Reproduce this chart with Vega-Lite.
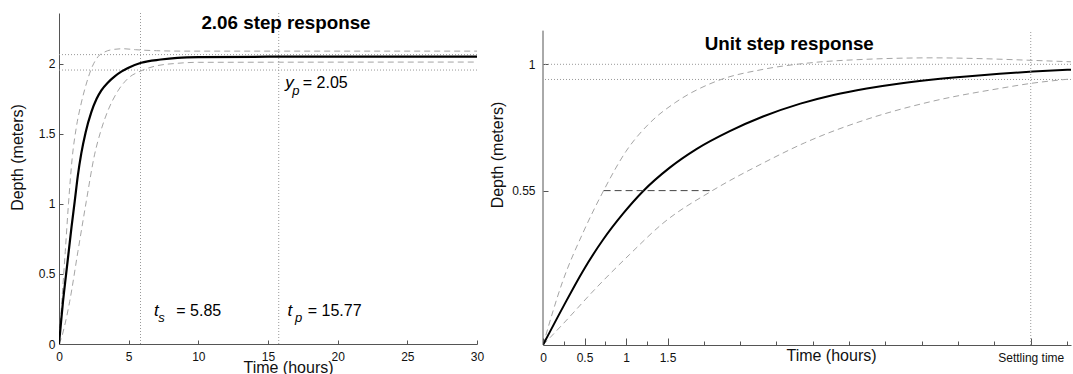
{
  "$schema": "https://vega.github.io/schema/vega-lite/v6.json",
  "padding": {"left": 9, "top": 12, "right": 0, "bottom": 0},
  "bounds": "flush",
  "spacing": 66,
  "config": {
    "font": "Liberation Sans",
    "view": {"stroke": null},
    "axis": {
      "grid": false,
      "domainColor": "#555555",
      "tickColor": "#555555",
      "labelColor": "#111111",
      "labelFont": "Liberation Sans",
      "labelFontSize": 12,
      "titleFont": "Liberation Sans",
      "titleFontSize": 16,
      "titleFontWeight": "normal",
      "titleColor": "#111111"
    }
  },
  "datasets": {
    "leftCurves": [
      {"s": "upper", "t": 0, "v": 0}, {"s": "upper", "t": 0.2, "v": 0.3}, {"s": "upper", "t": 0.45, "v": 0.66}, {"s": "upper", "t": 0.68, "v": 1.0}, {"s": "upper", "t": 0.95, "v": 1.33}, {"s": "upper", "t": 1.25, "v": 1.55}, {"s": "upper", "t": 1.6, "v": 1.72}, {"s": "upper", "t": 2.0, "v": 1.87}, {"s": "upper", "t": 2.39, "v": 1.98}, {"s": "upper", "t": 2.8, "v": 2.05}, {"s": "upper", "t": 3.3, "v": 2.085}, {"s": "upper", "t": 4.0, "v": 2.103}, {"s": "upper", "t": 4.6, "v": 2.107}, {"s": "upper", "t": 5.5, "v": 2.1}, {"s": "upper", "t": 7, "v": 2.093}, {"s": "upper", "t": 9, "v": 2.09}, {"s": "upper", "t": 30, "v": 2.09},
      {"s": "lower", "t": 0, "v": 0}, {"s": "lower", "t": 0.17, "v": 0.043}, {"s": "lower", "t": 0.45, "v": 0.15}, {"s": "lower", "t": 0.77, "v": 0.305}, {"s": "lower", "t": 1.36, "v": 0.662}, {"s": "lower", "t": 1.96, "v": 1.019}, {"s": "lower", "t": 2.55, "v": 1.35}, {"s": "lower", "t": 3.0, "v": 1.52}, {"s": "lower", "t": 3.51, "v": 1.665}, {"s": "lower", "t": 4.1, "v": 1.785}, {"s": "lower", "t": 4.95, "v": 1.895}, {"s": "lower", "t": 5.86, "v": 1.948}, {"s": "lower", "t": 6.86, "v": 1.982}, {"s": "lower", "t": 8.5, "v": 2.003}, {"s": "lower", "t": 10, "v": 2.01}, {"s": "lower", "t": 30, "v": 2.012},
      {"s": "response", "t": 0, "v": 0}, {"s": "response", "t": 0.15, "v": 0.16}, {"s": "response", "t": 0.29, "v": 0.305}, {"s": "response", "t": 0.5, "v": 0.49}, {"s": "response", "t": 0.7, "v": 0.662}, {"s": "response", "t": 0.9, "v": 0.835}, {"s": "response", "t": 1.13, "v": 1.019}, {"s": "response", "t": 1.35, "v": 1.2}, {"s": "response", "t": 1.6, "v": 1.36}, {"s": "response", "t": 1.91, "v": 1.51}, {"s": "response", "t": 2.32, "v": 1.655}, {"s": "response", "t": 2.7, "v": 1.75}, {"s": "response", "t": 3.04, "v": 1.81}, {"s": "response", "t": 3.5, "v": 1.865}, {"s": "response", "t": 4.0, "v": 1.91}, {"s": "response", "t": 4.5, "v": 1.945}, {"s": "response", "t": 4.95, "v": 1.97}, {"s": "response", "t": 5.9, "v": 2.007}, {"s": "response", "t": 7.3, "v": 2.03}, {"s": "response", "t": 8.5, "v": 2.042}, {"s": "response", "t": 10, "v": 2.047}, {"s": "response", "t": 15, "v": 2.05}, {"s": "response", "t": 30, "v": 2.05}
    ],
    "leftH": [{"v": 2.065}, {"v": 1.955}],
    "leftV": [{"t": 5.85}, {"t": 15.77}],
    "leftText": [
      {"role": "title", "t": 16.29, "v": 2.246, "text": "2.06 step response"},
      {"role": "main", "t": 16.54, "v": 1.824, "text": "y"},
      {"role": "sub", "t": 17.0, "v": 1.78, "text": "p"},
      {"role": "eq", "t": 17.5, "v": 1.824, "text": "= 2.05"},
      {"role": "main", "t": 6.98, "v": 0.203, "text": "t"},
      {"role": "sub", "t": 7.35, "v": 0.158, "text": "s"},
      {"role": "eq", "t": 8.42, "v": 0.203, "text": "= 5.85"},
      {"role": "main", "t": 16.57, "v": 0.203, "text": "t"},
      {"role": "sub", "t": 17.2, "v": 0.158, "text": "p"},
      {"role": "eq", "t": 17.85, "v": 0.203, "text": "= 15.77"}
    ],
    "rightCurves": [
      {"s": "upper", "t": 0, "v": 0}, {"s": "upper", "t": 0.241, "v": 0.23}, {"s": "upper", "t": 0.482, "v": 0.4}, {"s": "upper", "t": 0.73, "v": 0.55}, {"s": "upper", "t": 1.0, "v": 0.69}, {"s": "upper", "t": 1.3, "v": 0.795}, {"s": "upper", "t": 1.6, "v": 0.865}, {"s": "upper", "t": 2.09, "v": 0.94}, {"s": "upper", "t": 2.65, "v": 0.982}, {"s": "upper", "t": 3.21, "v": 1.005}, {"s": "upper", "t": 3.9, "v": 1.018}, {"s": "upper", "t": 4.7, "v": 1.023}, {"s": "upper", "t": 5.3, "v": 1.02}, {"s": "upper", "t": 5.9, "v": 1.014}, {"s": "upper", "t": 6.36, "v": 1.009},
      {"s": "lower", "t": 0, "v": 0}, {"s": "lower", "t": 0.241, "v": 0.075}, {"s": "lower", "t": 0.643, "v": 0.204}, {"s": "lower", "t": 1.045, "v": 0.323}, {"s": "lower", "t": 1.446, "v": 0.434}, {"s": "lower", "t": 2.04, "v": 0.55}, {"s": "lower", "t": 2.65, "v": 0.648}, {"s": "lower", "t": 3.15, "v": 0.72}, {"s": "lower", "t": 3.9, "v": 0.804}, {"s": "lower", "t": 4.7, "v": 0.869}, {"s": "lower", "t": 5.5, "v": 0.914}, {"s": "lower", "t": 5.876, "v": 0.932}, {"s": "lower", "t": 6.36, "v": 0.948},
      {"s": "response", "t": 0, "v": 0}, {"s": "response", "t": 0.241, "v": 0.135}, {"s": "response", "t": 0.482, "v": 0.264}, {"s": "response", "t": 0.723, "v": 0.375}, {"s": "response", "t": 0.964, "v": 0.468}, {"s": "response", "t": 1.205, "v": 0.548}, {"s": "response", "t": 1.527, "v": 0.632}, {"s": "response", "t": 1.848, "v": 0.698}, {"s": "response", "t": 2.25, "v": 0.762}, {"s": "response", "t": 2.65, "v": 0.814}, {"s": "response", "t": 3.1, "v": 0.86}, {"s": "response", "t": 3.5, "v": 0.891}, {"s": "response", "t": 3.9, "v": 0.914}, {"s": "response", "t": 4.3, "v": 0.932}, {"s": "response", "t": 4.7, "v": 0.946}, {"s": "response", "t": 5.1, "v": 0.957}, {"s": "response", "t": 5.5, "v": 0.966}, {"s": "response", "t": 5.9, "v": 0.974}, {"s": "response", "t": 6.36, "v": 0.981}
    ],
    "rightH": [{"v": 1.0}, {"v": 0.946}],
    "rightV": [{"kind": "axis", "t": 0, "v": 0, "v2": 1.12}, {"kind": "settle", "t": 5.875, "v": 0, "v2": 1.12}],
    "rightSeg": [{"t": 0.73, "t2": 2.04, "v": 0.55}],
    "rightText": [{"t": 2.966, "v": 1.051, "text": "Unit step response"}]
  },
  "hconcat": [
    {
      "width": 418,
      "height": 331,
      "layer": [
        {
          "data": {"name": "leftH"},
          "mark": {"type": "rule", "color": "#999999", "strokeDash": [1, 2], "strokeWidth": 1},
          "encoding": {"y": {"field": "v", "type": "quantitative", "scale": {"domain": [0, 2.362], "nice": false, "zero": false},
              "axis": {"values": [0, 0.5, 1, 1.5, 2], "tickSize": -4, "labelPadding": 8, "format": "~g", "labelFlush": false, "labelOverlap": false, "title": "Depth (meters)", "titleX": -42, "titleY": 144, "titleBaseline": "middle"}}}
        },
        {
          "data": {"name": "leftV"},
          "mark": {"type": "rule", "color": "#999999", "strokeDash": [1, 2], "strokeWidth": 1},
          "encoding": {"x": {"field": "t", "type": "quantitative", "scale": {"domain": [0, 30], "nice": false, "zero": false},
              "axis": {"values": [0, 5, 10, 15, 20, 25, 30], "tickSize": -4, "labelPadding": 11, "format": "~g", "labelFlush": false, "labelOverlap": false, "title": "Time (hours)", "titleX": 229, "titleY": 28, "titleBaseline": "alphabetic"}}}
        },
        {
          "data": {"name": "leftCurves"},
          "transform": [{"filter": "datum.s != 'response'"}],
          "mark": {"type": "line", "interpolate": "monotone", "clip": true, "color": "#a5a5a5", "strokeWidth": 1, "strokeDash": [6, 4]},
          "encoding": {
            "x": {"field": "t", "type": "quantitative"},
            "y": {"field": "v", "type": "quantitative"},
            "detail": {"field": "s", "type": "nominal"},
            "order": {"field": "t", "type": "quantitative"}
          }
        },
        {
          "data": {"name": "leftCurves"},
          "transform": [{"filter": "datum.s == 'response'"}],
          "mark": {"type": "line", "interpolate": "monotone", "clip": true, "color": "#000000", "strokeWidth": 2.2},
          "encoding": {
            "x": {"field": "t", "type": "quantitative"},
            "y": {"field": "v", "type": "quantitative"},
            "order": {"field": "t", "type": "quantitative"}
          }
        },
        {
          "data": {"name": "leftText"},
          "transform": [{"filter": "datum.role == 'title'"}],
          "mark": {"type": "text", "font": "Liberation Sans", "fontWeight": "bold", "fontSize": 18.8, "align": "center", "baseline": "alphabetic", "color": "#000000"},
          "encoding": {"x": {"field": "t", "type": "quantitative"}, "y": {"field": "v", "type": "quantitative"}, "text": {"field": "text"}}
        },
        {
          "data": {"name": "leftText"},
          "transform": [{"filter": "datum.role == 'main'"}],
          "mark": {"type": "text", "font": "Liberation Sans", "fontStyle": "italic", "fontSize": 17, "align": "center", "baseline": "alphabetic", "color": "#000000"},
          "encoding": {"x": {"field": "t", "type": "quantitative"}, "y": {"field": "v", "type": "quantitative"}, "text": {"field": "text"}}
        },
        {
          "data": {"name": "leftText"},
          "transform": [{"filter": "datum.role == 'sub'"}],
          "mark": {"type": "text", "font": "Liberation Sans", "fontStyle": "italic", "fontSize": 13, "align": "center", "baseline": "alphabetic", "color": "#000000"},
          "encoding": {"x": {"field": "t", "type": "quantitative"}, "y": {"field": "v", "type": "quantitative"}, "text": {"field": "text"}}
        },
        {
          "data": {"name": "leftText"},
          "transform": [{"filter": "datum.role == 'eq'"}],
          "mark": {"type": "text", "font": "Liberation Sans", "fontSize": 16, "align": "left", "baseline": "alphabetic", "color": "#000000"},
          "encoding": {"x": {"field": "t", "type": "quantitative"}, "y": {"field": "v", "type": "quantitative"}, "text": {"field": "text"}}
        }
      ]
    },
    {
      "width": 528,
      "height": 332,
      "resolve": {"axis": {"x": "independent"}},
      "layer": [
        {
          "data": {"name": "rightH"},
          "mark": {"type": "rule", "color": "#999999", "strokeDash": [1, 2], "strokeWidth": 1},
          "encoding": {"y": {"field": "v", "type": "quantitative", "scale": {"domain": [0, 1.1828], "nice": false, "zero": false},
              "axis": {"values": [0.55, 1], "tickSize": -5, "labelPadding": 13, "format": "~g", "domain": false, "labelFlush": false, "title": "Depth (meters)", "titleX": -46, "titleY": 141.5, "titleBaseline": "middle"}}}
        },
        {
          "data": {"name": "rightCurves"},
          "transform": [{"filter": "datum.s != 'response'"}],
          "mark": {"type": "line", "interpolate": "monotone", "clip": true, "color": "#a5a5a5", "strokeWidth": 1, "strokeDash": [6, 4]},
          "encoding": {
            "x": {"field": "t", "type": "quantitative", "scale": {"domain": [0, 6.36], "nice": false, "zero": false},
              "axis": {"orient": "bottom", "values": [0, 0.5, 1, 1.5, 5.875], "tickSize": -7, "labelPadding": 14, "labelExpr": "datum.value == 5.875 ? 'Settling time' : format(datum.value, '~g')", "labelFlush": false, "labelOverlap": false, "title": "Time (hours)", "titleX": 288, "titleY": 15, "titleBaseline": "alphabetic"}},
            "y": {"field": "v", "type": "quantitative"},
            "detail": {"field": "s", "type": "nominal"},
            "order": {"field": "t", "type": "quantitative"}
          }
        },
        {
          "data": {"name": "rightCurves"},
          "transform": [{"filter": "datum.s == 'response'"}],
          "mark": {"type": "line", "interpolate": "monotone", "clip": true, "color": "#000000", "strokeWidth": 2},
          "encoding": {
            "x": {"field": "t", "type": "quantitative", "axis": null},
            "y": {"field": "v", "type": "quantitative"},
            "order": {"field": "t", "type": "quantitative"}
          }
        },
        {
          "data": {"name": "rightSeg"},
          "mark": {"type": "rule", "color": "#444444", "strokeDash": [7, 4], "strokeWidth": 1},
          "encoding": {
            "x": {"field": "t", "type": "quantitative", "axis": {"orient": "bottom", "values": [0.25, 0.75, 1.25, 1.9375, 2.375, 2.8125, 3.25, 3.6875, 4.125, 4.5625, 5, 5.4375, 6.3125], "tickSize": -4, "labels": false, "domain": false, "title": null}},
            "x2": {"field": "t2"},
            "y": {"field": "v", "type": "quantitative"}
          }
        },
        {
          "data": {"name": "rightV"},
          "transform": [{"filter": "datum.kind == 'settle'"}],
          "mark": {"type": "rule", "color": "#999999", "strokeDash": [1, 2], "strokeWidth": 1},
          "encoding": {"x": {"field": "t", "type": "quantitative", "axis": null}, "y": {"field": "v", "type": "quantitative"}, "y2": {"field": "v2"}}
        },
        {
          "data": {"name": "rightV"},
          "transform": [{"filter": "datum.kind == 'axis'"}],
          "mark": {"type": "rule", "color": "#555555", "strokeWidth": 1},
          "encoding": {"x": {"field": "t", "type": "quantitative", "axis": null}, "y": {"field": "v", "type": "quantitative"}, "y2": {"field": "v2"}}
        },
        {
          "data": {"name": "rightText"},
          "mark": {"type": "text", "font": "Liberation Sans", "fontWeight": "bold", "fontSize": 18.8, "align": "center", "baseline": "alphabetic", "color": "#000000"},
          "encoding": {"x": {"field": "t", "type": "quantitative", "axis": null}, "y": {"field": "v", "type": "quantitative"}, "text": {"field": "text"}}
        }
      ]
    }
  ]
}
